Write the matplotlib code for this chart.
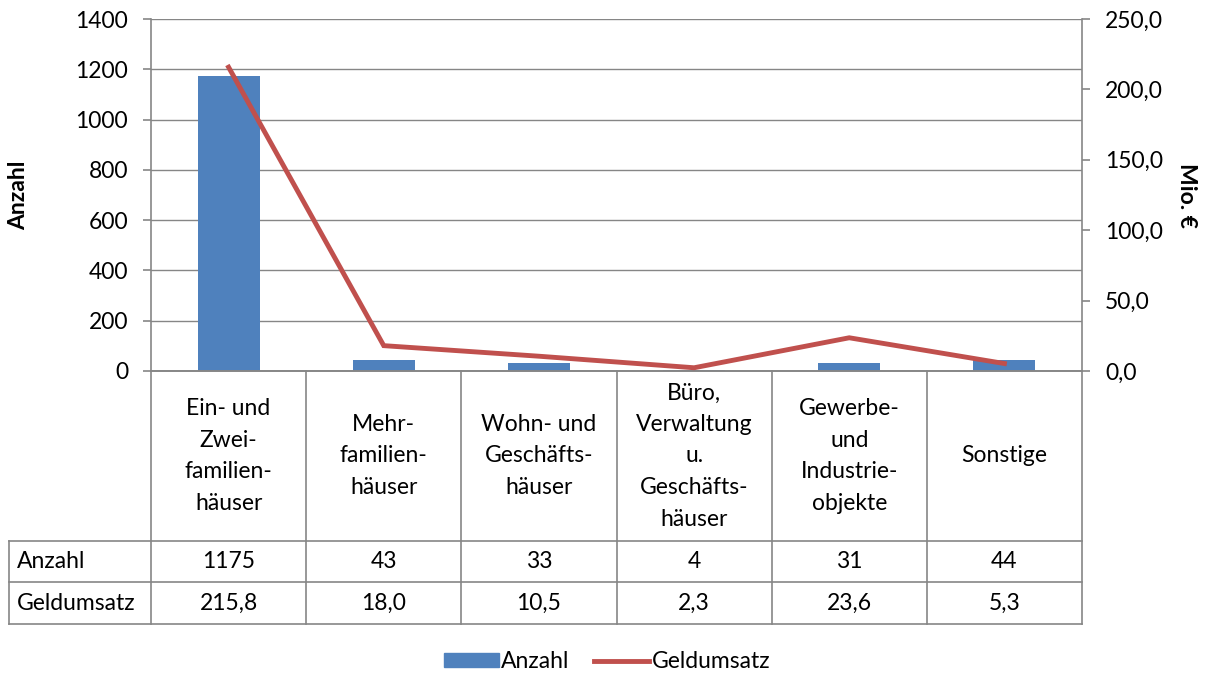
import numpy as np
import matplotlib
matplotlib.use("Agg")
import matplotlib.pyplot as plt
import matplotlib.transforms as mtransforms
from matplotlib.patches import Patch
from matplotlib.lines import Line2D

plt.rcParams['font.family'] = ['Lato', 'DejaVu Sans']

# data
categories = ["Ein- und\nZwei-\nfamilien-\nhäuser", "Mehr-\nfamilien-\nhäuser",
              "Wohn- und\nGeschäfts-\nhäuser", "Büro,\nVerwaltung\nu.\nGeschäfts-\nhäuser",
              "Gewerbe-\nund\nIndustrie-\nobjekte", "Sonstige"]
anzahl = [1175, 43, 33, 4, 31, 44]
geldumsatz = [215.8, 18.0, 10.5, 2.3, 23.6, 5.3]
row_labels = ["Anzahl", "Geldumsatz"]

bar_color = "#4F81BD"
line_color = "#C0504D"
grid_color = "#868686"
fs = 16.5

fig = plt.figure(figsize=(12.14, 6.75), dpi=100)
ax = fig.add_axes([151 / 1214, 1 - 371 / 675, 931 / 1214, 352 / 675])
ax2 = ax.twinx()

x = np.arange(len(categories))
ax.bar(x, anzahl, width=0.4, color=bar_color, zorder=2)
ax2.plot(x, geldumsatz, color=line_color, lw=3.5, solid_joinstyle='miter', zorder=3)

ax.set_xlim(-0.5, len(categories) - 0.5)
ax.set_ylim(0, 1400)
ax.set_yticks(np.arange(0, 1401, 200))
ax2.set_ylim(0, 250)
ax2.set_yticks(np.arange(0, 251, 50))
ax2.set_yticklabels([f"{v:.1f}".replace(".", ",") for v in np.arange(0, 251, 50)])

ax.yaxis.grid(True, color=grid_color, lw=1)
ax.set_axisbelow(True)
ax.set_xticks([])
for a in (ax, ax2):
    a.spines['top'].set_visible(False)
    for s in ('left', 'right', 'bottom'):
        a.spines[s].set_color(grid_color)
        a.spines[s].set_linewidth(1.2)
    a.tick_params(axis='y', colors=grid_color, labelcolor='black', labelsize=fs,
                  length=5.5, width=1.2, pad=11)
ax2.spines['left'].set_visible(False)
ax.spines['right'].set_visible(False)

ax.set_ylabel("Anzahl", fontsize=fs, fontweight='bold')
ax2.set_ylabel("Mio. €", fontsize=fs, fontweight='bold', rotation=270)
ax.yaxis.set_label_coords(-0.131, 0.5)
ax2.yaxis.set_label_coords(1.124, 0.5)

# data table below the plot
trans = mtransforms.blended_transform_factory(ax.transData, ax.transAxes)
y_cat = -170 / 352
y_r1 = -211 / 352
y_r2 = -253 / 352
x_left = -0.5 - 142 / 931 * len(categories)
x_right = len(categories) - 0.5
lkw = dict(color=grid_color, lw=1.2, transform=trans, clip_on=False)

for b in np.arange(-0.5, len(categories), 1.0):
    ax.add_line(Line2D([b, b], [0, y_r2], **lkw))
for yy in (y_cat, y_r1, y_r2):
    ax.add_line(Line2D([x_left, x_right], [yy, yy], **lkw))
ax.add_line(Line2D([x_left, x_left], [y_cat, y_r2], **lkw))

for i, cat in enumerate(categories):
    ax.text(i, y_cat / 2, cat, transform=trans, ha='center', va='center',
            fontsize=fs, linespacing=1.62)
    ax.text(i, (y_cat + y_r1) / 2, str(anzahl[i]), transform=trans,
            ha='center', va='center', fontsize=fs)
    ax.text(i, (y_r1 + y_r2) / 2, f"{geldumsatz[i]:.1f}".replace(".", ","),
            transform=trans, ha='center', va='center', fontsize=fs)
for lab, yy in zip(row_labels, [(y_cat + y_r1) / 2, (y_r1 + y_r2) / 2]):
    ax.text(x_left + 0.05, yy, lab, transform=trans, ha='left', va='center',
            fontsize=fs)

handles = [Patch(color=bar_color), Line2D([], [], color=line_color, lw=3.5)]
fig.legend(handles, ["Anzahl", "Geldumsatz"], loc='center', bbox_to_anchor=(0.5, 1 - 662 / 675),
           ncol=2, frameon=False, fontsize=fs, handlelength=2.4, handleheight=0.55,
           handletextpad=0.1, columnspacing=1.1)

fig.savefig("out.png", dpi=100)
